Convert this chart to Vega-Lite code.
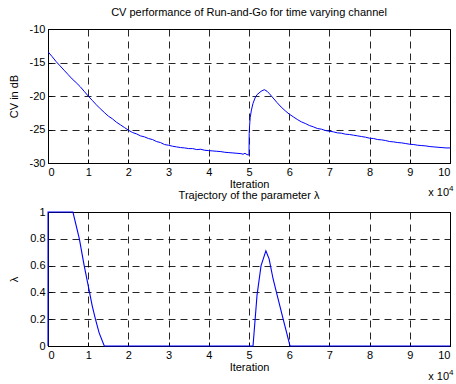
{
  "$schema": "https://vega.github.io/schema/vega-lite/v6.json",
  "padding": {"left": 7, "top": 6, "right": 5, "bottom": 0},
  "bounds": "flush",
  "spacing": 49,
  "datasets": {
    "cv": [
      {"it": 0, "cv": -13.4}, {"it": 0.1, "cv": -14.1}, {"it": 0.2, "cv": -14.85}, {"it": 0.3, "cv": -15.5},
      {"it": 0.4, "cv": -16.15}, {"it": 0.5, "cv": -16.8}, {"it": 0.6, "cv": -17.45}, {"it": 0.7, "cv": -18.0},
      {"it": 0.8, "cv": -18.6}, {"it": 0.9, "cv": -19.3}, {"it": 1.0, "cv": -20.0}, {"it": 1.1, "cv": -20.65},
      {"it": 1.2, "cv": -21.3}, {"it": 1.3, "cv": -21.9}, {"it": 1.4, "cv": -22.45}, {"it": 1.5, "cv": -23.0},
      {"it": 1.6, "cv": -23.4}, {"it": 1.7, "cv": -23.9}, {"it": 1.8, "cv": -24.3}, {"it": 1.9, "cv": -24.7},
      {"it": 2.0, "cv": -25.1}, {"it": 2.1, "cv": -25.45}, {"it": 2.2, "cv": -25.65}, {"it": 2.3, "cv": -25.95},
      {"it": 2.4, "cv": -26.1}, {"it": 2.5, "cv": -26.35}, {"it": 2.6, "cv": -26.5}, {"it": 2.7, "cv": -26.8},
      {"it": 2.8, "cv": -26.95}, {"it": 2.9, "cv": -27.25}, {"it": 3.0, "cv": -27.35}, {"it": 3.1, "cv": -27.5},
      {"it": 3.2, "cv": -27.6}, {"it": 3.3, "cv": -27.7}, {"it": 3.4, "cv": -27.75}, {"it": 3.5, "cv": -27.85},
      {"it": 3.6, "cv": -27.85}, {"it": 3.7, "cv": -28.0}, {"it": 3.8, "cv": -27.95}, {"it": 3.9, "cv": -28.1},
      {"it": 4.0, "cv": -28.15}, {"it": 4.1, "cv": -28.2}, {"it": 4.2, "cv": -28.25}, {"it": 4.3, "cv": -28.3},
      {"it": 4.4, "cv": -28.4}, {"it": 4.5, "cv": -28.45}, {"it": 4.6, "cv": -28.5}, {"it": 4.7, "cv": -28.55},
      {"it": 4.8, "cv": -28.6}, {"it": 4.85, "cv": -28.7}, {"it": 4.9, "cv": -28.55}, {"it": 4.95, "cv": -28.75},
      {"it": 4.99, "cv": -28.8}, {"it": 5.0, "cv": -28.8}, {"it": 5.005, "cv": -25.6}, {"it": 5.015, "cv": -24.4},
      {"it": 5.03, "cv": -23.2}, {"it": 5.06, "cv": -22.1}, {"it": 5.1, "cv": -21.1}, {"it": 5.15, "cv": -20.3},
      {"it": 5.2, "cv": -19.8}, {"it": 5.3, "cv": -19.3}, {"it": 5.38, "cv": -19.05}, {"it": 5.45, "cv": -19.3},
      {"it": 5.5, "cv": -19.6}, {"it": 5.6, "cv": -20.3}, {"it": 5.7, "cv": -21.0}, {"it": 5.8, "cv": -21.65},
      {"it": 5.9, "cv": -22.2}, {"it": 6.0, "cv": -22.7}, {"it": 6.1, "cv": -23.1}, {"it": 6.2, "cv": -23.5},
      {"it": 6.3, "cv": -23.85}, {"it": 6.4, "cv": -24.1}, {"it": 6.5, "cv": -24.4}, {"it": 6.6, "cv": -24.6},
      {"it": 6.7, "cv": -24.85}, {"it": 6.8, "cv": -24.95}, {"it": 6.9, "cv": -25.15}, {"it": 7.0, "cv": -25.25},
      {"it": 7.1, "cv": -25.35}, {"it": 7.2, "cv": -25.5}, {"it": 7.3, "cv": -25.55}, {"it": 7.4, "cv": -25.7},
      {"it": 7.5, "cv": -25.75}, {"it": 7.6, "cv": -25.85}, {"it": 7.7, "cv": -25.95}, {"it": 7.8, "cv": -26.05},
      {"it": 7.9, "cv": -26.15}, {"it": 8.0, "cv": -26.3}, {"it": 8.1, "cv": -26.35}, {"it": 8.2, "cv": -26.5},
      {"it": 8.3, "cv": -26.55}, {"it": 8.4, "cv": -26.65}, {"it": 8.5, "cv": -26.8}, {"it": 8.6, "cv": -26.85},
      {"it": 8.7, "cv": -26.95}, {"it": 8.8, "cv": -27.0}, {"it": 8.9, "cv": -27.1}, {"it": 9.0, "cv": -27.2},
      {"it": 9.1, "cv": -27.25}, {"it": 9.2, "cv": -27.35}, {"it": 9.3, "cv": -27.4}, {"it": 9.4, "cv": -27.45},
      {"it": 9.5, "cv": -27.55}, {"it": 9.6, "cv": -27.6}, {"it": 9.7, "cv": -27.65}, {"it": 9.8, "cv": -27.7},
      {"it": 9.9, "cv": -27.75}, {"it": 10.0, "cv": -27.75}
    ],
    "lambda": [
      {"it": 0, "lam": 0}, {"it": 0.001, "lam": 1}, {"it": 0.62, "lam": 1}, {"it": 0.78, "lam": 0.8},
      {"it": 0.9, "lam": 0.6}, {"it": 1.0, "lam": 0.45}, {"it": 1.1, "lam": 0.3}, {"it": 1.18, "lam": 0.2},
      {"it": 1.27, "lam": 0.1}, {"it": 1.4, "lam": 0}, {"it": 5.1, "lam": 0}, {"it": 5.2, "lam": 0.38},
      {"it": 5.3, "lam": 0.6}, {"it": 5.42, "lam": 0.71}, {"it": 5.5, "lam": 0.65}, {"it": 5.6, "lam": 0.5},
      {"it": 5.7, "lam": 0.38}, {"it": 5.85, "lam": 0.2}, {"it": 6.02, "lam": 0}, {"it": 10, "lam": 0}
    ],
    "one": [{"a": 1}]
  },
  "vconcat": [
    {
      "width": 402,
      "height": 134,
      "title": {"text": "CV performance of Run-and-Go for time varying channel", "offset": 5},
      "encoding": {
        "x": {"type": "quantitative", "scale": {"domain": [0, 10], "nice": false},
              "axis": {"title": "Iteration", "values": [0,1,2,3,4,5,6,7,8,9,10], "titlePadding": 1}},
        "y": {"type": "quantitative", "scale": {"domain": [-30, -10], "nice": false, "zero": false},
              "axis": {"title": "CV in dB", "values": [-30,-25,-20,-15,-10], "labelExpr": "'' + datum.value", "titlePadding": 10}}
      },
      "layer": [
        {
          "data": {"name": "cv"},
          "mark": {"type": "line", "color": "#0000ff", "strokeWidth": 1, "clip": true},
          "encoding": {"x": {"field": "it"}, "y": {"field": "cv"}}
        },
        {
          "data": {"name": "one"},
          "mark": {"type": "text", "text": "x 10", "align": "right", "baseline": "alphabetic", "dx": -1, "dy": 33, "fontSize": 11},
          "encoding": {"x": {"datum": 10}, "y": {"datum": -30}}
        },
        {
          "data": {"name": "one"},
          "mark": {"type": "text", "text": "4", "align": "left", "baseline": "alphabetic", "dx": -1, "dy": 28, "fontSize": 8},
          "encoding": {"x": {"datum": 10}, "y": {"datum": -30}}
        }
      ]
    },
    {
      "width": 402,
      "height": 134,
      "title": {"text": "Trajectory of the parameter λ", "offset": 5},
      "encoding": {
        "x": {"type": "quantitative", "scale": {"domain": [0, 10], "nice": false},
              "axis": {"title": "Iteration", "values": [0,1,2,3,4,5,6,7,8,9,10], "titlePadding": 1}},
        "y": {"type": "quantitative", "scale": {"domain": [0, 1], "nice": false},
              "axis": {"title": "λ", "values": [0,0.2,0.4,0.6,0.8,1], "labelExpr": "'' + datum.value", "titlePadding": 10}}
      },
      "layer": [
        {
          "data": {"name": "lambda"},
          "mark": {"type": "line", "color": "#0000ff", "strokeWidth": 1.1},
          "encoding": {"x": {"field": "it"}, "y": {"field": "lam"}}
        },
        {
          "data": {"name": "one"},
          "mark": {"type": "text", "text": "x 10", "align": "right", "baseline": "alphabetic", "dx": -1, "dy": 34, "fontSize": 11},
          "encoding": {"x": {"datum": 10}, "y": {"datum": 0}}
        },
        {
          "data": {"name": "one"},
          "mark": {"type": "text", "text": "4", "align": "left", "baseline": "alphabetic", "dx": -1, "dy": 29, "fontSize": 8},
          "encoding": {"x": {"datum": 10}, "y": {"datum": 0}}
        }
      ]
    }
  ],
  "config": {
    "font": "Liberation Sans",
    "view": {"stroke": "black", "strokeWidth": 1},
    "title": {"fontSize": 11, "fontWeight": "normal", "color": "black"},
    "text": {"color": "black", "font": "Liberation Sans"},
    "axis": {
      "grid": true, "gridColor": "black", "gridDash": [7, 5], "gridOpacity": 0.85, "gridWidth": 1,
      "domainColor": "black", "tickColor": "black", "tickSize": -4,
      "labelColor": "black", "titleColor": "black", "labelFontSize": 11, "titleFontSize": 11,
      "titleFontWeight": "normal", "labelPadding": 7, "labelFont": "Liberation Sans", "titleFont": "Liberation Sans"
    }
  }
}
